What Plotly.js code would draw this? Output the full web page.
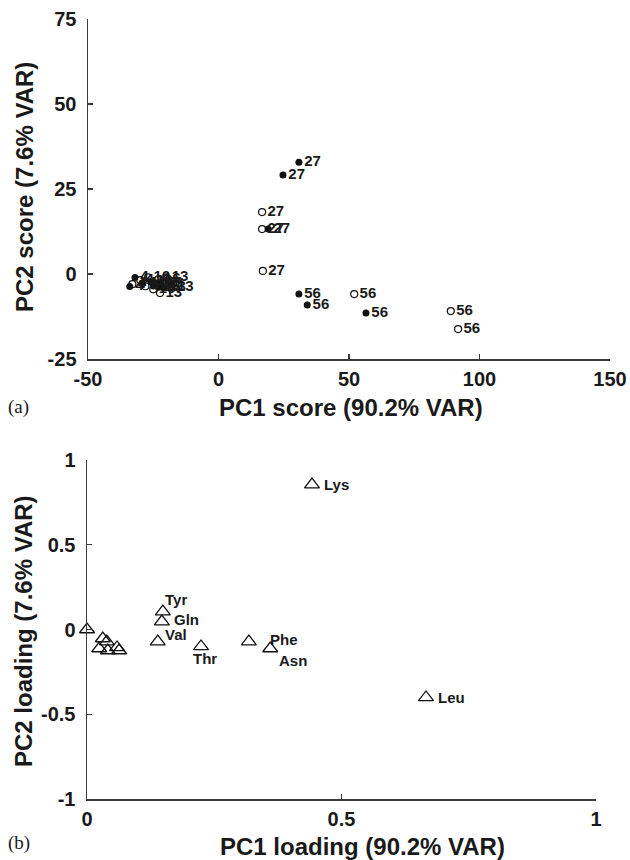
<!DOCTYPE html>
<html>
<head>
<meta charset="utf-8">
<script src="https://cdn.plot.ly/plotly-3.0.1.min.js"></script>
<style>
  html, body { margin: 0; padding: 0; background: #fff; }
  #chart { width: 630px; height: 860px; }
</style>
</head>
<body>
<div id="chart"></div>
<script>
// ---- (a) PC scores: filled and open sample groups, labelled by day ----
const filledX = [30.8, 24.7, 19.0, 30.8, 34.0, 56.5, -32, -34, -29, -26, -25, -24, -23, -22, -21];
const filledY = [32.9, 29.1, 13.2, -5.9, -9.1, -11.5, -1.0, -3.7, -2.8, -2.2, -3.5, -2.8, -3.8, -2.6, -4.0];
const filledLabel = ['27', '27', '27', '56', '56', '56', '4', '4', '4', '16', '16', '16', '13', '13', '13'];

const openX = [16.7, 16.7, 17.0, 52.0, 89.0, 91.8, -33, -30, -28, -27, -25, -23, -20, -22.4, -18];
const openY = [18.2, 13.2, 0.9, -5.9, -10.9, -16.2, -3.0, -1.8, -3.6, -1.0, -4.5, -1.5, -1.0, -5.6, -3.8];
const openLabel = ['27', '27', '27', '56', '56', '56', '4', '4', '4', '16', '16', '16', '13', '13', '13'];

const scoreXTicks = [-50, 0, 50, 100, 150];
const scoreXText = ['-50', '0', '50', '100', '150'];
const scoreYTicks = [-25, 0, 25, 50, 75];
const scoreYText = ['-25', '0', '25', '50', '75'];

// ---- (b) PC loadings of amino acids ----
const aminoName = ['', '', '', '', '', '', '', 'Tyr', 'Gln', 'Val', 'Thr', 'Phe', 'Asn', 'Lys', 'Leu'];
const loadX = [0.000, 0.031, 0.039, 0.024, 0.041, 0.059, 0.063, 0.149, 0.147, 0.139, 0.224, 0.318, 0.360, 0.442, 0.666];
const loadY = [0.000, -0.053, -0.071, -0.112, -0.124, -0.106, -0.124, 0.106, 0.047, -0.071, -0.100, -0.071, -0.112, 0.855, -0.401];

const loadXTicks = [0, 0.5, 1];
const loadXText = ['0', '0.5', '1'];
const loadYTicks = [-1, -0.5, 0, 0.5, 1];
const loadYText = ['-1', '-0.5', '0', '0.5', '1'];

// label offsets (px) from each loading marker: [xshift, yshift]
const aminoOffset = [[0,0],[0,0],[0,0],[0,0],[0,0],[0,0],[0,0],
  [0, 12], [10, 2], [5, 7], [-10, -12], [19, 2], [7, -12], [10, 0], [10, 0]];

const W = 630, H = 860;
const px = x => x / W;
const py = y => 1 - y / H;

const FONT = 'Liberation Sans, Arial, Helvetica, sans-serif';
const SERIF = 'Liberation Serif, Times New Roman, serif';
const INK = '#1a1a1a';

const axisStyle = {
  showline: true, linecolor: '#3a3a3a', linewidth: 1.5,
  ticks: 'inside', ticklen: 5, tickwidth: 1.2, tickcolor: '#3a3a3a',
  showgrid: false, zeroline: false, tickmode: 'array',
  tickfont: { family: FONT, size: 20, color: INK, weight: 'bold' },
  ticklabelstandoff: 6, fixedrange: true
};
const xAxisStyle = Object.assign({}, axisStyle, { ticklabelstandoff: 1 });

const traces = [
  {
    x: filledX, y: filledY, text: filledLabel, type: 'scatter', mode: 'markers+text',
    xaxis: 'x', yaxis: 'y', textposition: 'middle right', cliponaxis: false,
    marker: { symbol: 'circle', size: 7, color: '#111' },
    textfont: { family: FONT, size: 15, color: INK, weight: 'bold' },
    hoverinfo: 'skip'
  },
  {
    x: openX, y: openY, text: openLabel, type: 'scatter', mode: 'markers+text',
    xaxis: 'x', yaxis: 'y', textposition: 'middle right', cliponaxis: false,
    marker: { symbol: 'circle-open', size: 7, color: '#111', line: { width: 1.2 } },
    textfont: { family: FONT, size: 15, color: INK, weight: 'bold' },
    hoverinfo: 'skip'
  },
  {
    x: loadX, y: loadY, type: 'scatter', mode: 'markers',
    xaxis: 'x2', yaxis: 'y2', cliponaxis: false,
    marker: { symbol: 'triangle-up-open', size: 13, color: '#111', line: { width: 1.3 } },
    hoverinfo: 'skip'
  }
];

const annotations = [];
aminoName.forEach((name, i) => {
  if (!name) return;
  annotations.push({
    xref: 'x2', yref: 'y2', x: loadX[i], y: loadY[i], text: name,
    showarrow: false, xanchor: 'left', yanchor: 'middle',
    xshift: aminoOffset[i][0], yshift: aminoOffset[i][1],
    font: { family: FONT, size: 15, color: INK, weight: 'bold' }
  });
});

function title(text, x, y, angle) {
  annotations.push({
    xref: 'paper', yref: 'paper', x: px(x), y: py(y), text: text,
    showarrow: false, xanchor: 'center', yanchor: 'middle', textangle: angle || 0,
    font: { family: FONT, size: 24, color: INK, weight: 'bold' }
  });
}
title('PC1 score (90.2% VAR)', 351, 407);
title('PC2 score (7.6% VAR)', 24, 187, -90);
title('PC1 loading (90.2% VAR)', 362, 846);
title('PC2 loading (7.6% VAR)', 23, 631, -90);

[['(a)', 407], ['(b)', 843]].forEach(([t, y]) => {
  annotations.push({
    xref: 'paper', yref: 'paper', x: px(6), y: py(y), text: t,
    showarrow: false, xanchor: 'left', yanchor: 'middle',
    font: { family: SERIF, size: 19, color: INK }
  });
});

const layout = {
  width: W, height: H,
  margin: { l: 0, r: 0, t: 0, b: 0 },
  paper_bgcolor: '#fff', plot_bgcolor: '#fff',
  showlegend: false,
  xaxis: Object.assign({}, xAxisStyle, {
    domain: [px(88), px(610)], range: [-50, 150], anchor: 'y',
    tickvals: scoreXTicks, ticktext: scoreXText
  }),
  yaxis: Object.assign({}, axisStyle, {
    domain: [py(359), py(19)], range: [-25, 75], anchor: 'x',
    tickvals: scoreYTicks, ticktext: scoreYText
  }),
  xaxis2: Object.assign({}, xAxisStyle, {
    domain: [px(87), px(596)], range: [0, 1], anchor: 'y2',
    tickvals: loadXTicks, ticktext: loadXText
  }),
  yaxis2: Object.assign({}, axisStyle, {
    domain: [py(799), py(460)], range: [-1, 1], anchor: 'x2',
    tickvals: loadYTicks, ticktext: loadYText
  }),
  annotations: annotations
};

Plotly.newPlot('chart', traces, layout, { staticPlot: true, displayModeBar: false });
</script>
</body>
</html>
